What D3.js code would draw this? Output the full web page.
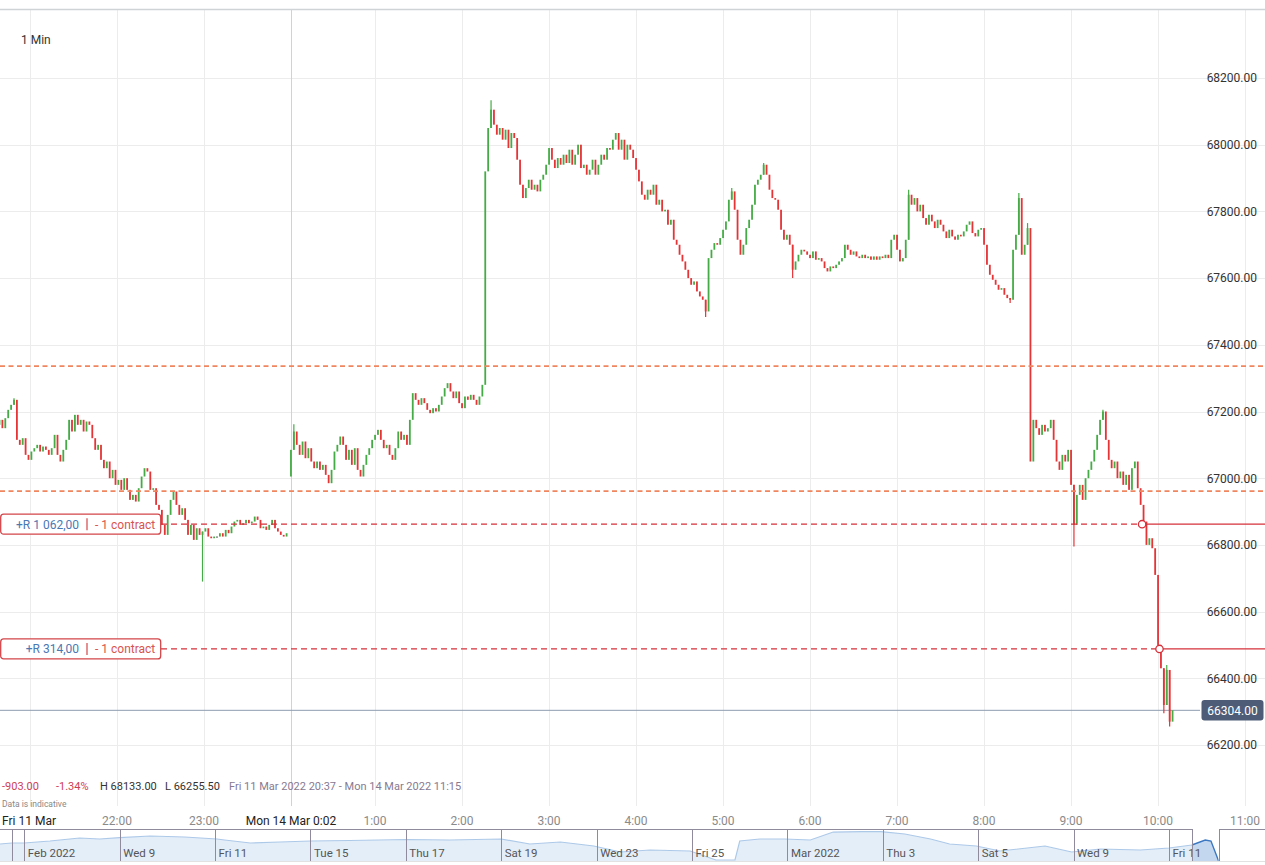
<!DOCTYPE html>
<html><head><meta charset="utf-8">
<script src="https://cdn.jsdelivr.net/npm/d3@7"></script>
<style>
body{margin:0;background:#fff;overflow:hidden}
svg{display:block;font-family:Roboto,"Liberation Sans",Arial,sans-serif}
</style>
</head><body>
<svg id="chart" width="1265" height="865"></svg>
<script>
// ---------------- DATA ----------------
const intervalLabel = "1 Min";
const candleMinutes = 2;
const viewStartStr = "2022-03-11T20:37";
const viewEndStr = "2022-03-14T11:15";
const gapStartStr = "2022-03-12T00:00";
const gapEndStr = "2022-03-14T00:02";

const fridayStartStr = "2022-03-11T20:37";
const fridayOpen = 67207;
const fridayCloses = [
67160,67175,67150,67180,67205,67220,67235,67115,67100,67120,
67070,67055,67080,67090,67100,67080,67095,67085,67070,67090,
67130,67070,67050,67085,67115,67175,67140,67190,67160,67175,
67140,67170,67160,67120,67085,67100,67055,67030,67050,67000,
67025,66980,66995,66965,67000,66965,66935,66950,66930,66970,
67005,67030,67020,66965,66970,66920,66905,66860,66830,66890,
66935,66960,66920,66890,66910,66875,66830,66860,66815,66850,
66830,66840,66850,66825,66820,66825,66825,66835,66825,66845,
66835,66855,66870,66875,66860,66865,66875,66865,66870,66885,
66875,66850,66855,66845,66860,66875,66850,66840,66830,66825,
66835];
const fridayWicks = [[6,67240,null],[71,null,66690]];

const mondayStartStr = "2022-03-14T00:02";
const mondayOpen = 67005;
const mondayCloses = [
67085,67140,67100,67070,67110,67060,67090,67050,67030,67050,
67025,67040,67010,66985,67025,67080,67100,67125,67100,67055,
67085,67040,67090,67025,67005,67040,67070,67090,67115,67130,
67145,67115,67090,67100,67070,67055,67090,67140,67115,67130,
67100,67175,67255,67235,67220,67240,67225,67205,67195,67210,
67200,67220,67245,67270,67285,67260,67240,67260,67225,67210,
67245,67235,67250,67235,67220,67245,67280,67920,68050,68105,
68060,68030,68050,68015,68045,67990,68035,68020,67955,67880,
67840,67870,67895,67865,67880,67860,67895,67910,67940,67990,
67955,67930,67960,67940,67970,67945,67985,67940,67970,68000,
67930,67940,67910,67925,67955,67910,67940,67970,67955,67990,
67985,68015,68035,67985,68015,67955,68000,67985,67960,67925,
67890,67850,67835,67865,67850,67880,67820,67835,67800,67805,
67760,67775,67715,67700,67670,67650,67625,67600,67580,67590,
67560,67545,67535,67500,67660,67685,67705,67700,67720,67745,
67770,67835,67860,67805,67715,67670,67700,67750,67775,67820,
67880,67895,67910,67940,67910,67865,67840,67835,67805,67745,
67715,67730,67700,67625,67650,67670,67685,67680,67670,67660,
67680,67655,67660,67650,67630,67620,67635,67630,67640,67650,
67660,67700,67685,67670,67680,67665,67660,67670,67660,67665,
67655,67665,67655,67665,67660,67670,67660,67715,67730,67685,
67650,67660,67715,67850,67820,67840,67800,67820,67780,67760,
67790,67770,67750,67775,67760,67740,67720,67745,67725,67715,
67730,67725,67740,67760,67770,67735,67725,67745,67750,67700,
67640,67610,67595,67580,67565,67570,67550,67540,67535,67685,
67730,67840,67670,67700,67750,67050,67175,67150,67130,67160,
67140,67150,67175,67115,67050,67025,67070,67050,67085,66980,
66860,66950,66980,66935,67000,67025,67050,67085,67130,67175,
67200,67115,67055,67030,67050,67000,67020,66980,67010,66965,
67030,67050,66970,66920,66870,66800,66820,66790,66710,66500,
66430,66320,66425,66270,66304];
const mondayWicks = [[1,67162,null],[69,68133,null],[143,null,67483],[152,67870,null],
  [163,67945,null],[173,null,67600],[213,67865,null],[248,null,67525],[251,67855,null],
  [254,67765,null],[270,null,66795],[280,67205,null],[301,null,66295],[302,66440,null],[303,null,66255.5]];

const priceTicks = [66200,66400,66600,66800,67000,67200,67400,67600,67800,68000,68200];
const timeTickTimes = ["2022-03-11T21:00","2022-03-11T22:00","2022-03-11T23:00","2022-03-14T00:02",
  "2022-03-14T01:00","2022-03-14T02:00","2022-03-14T03:00","2022-03-14T04:00","2022-03-14T05:00",
  "2022-03-14T06:00","2022-03-14T07:00","2022-03-14T08:00","2022-03-14T09:00","2022-03-14T10:00","2022-03-14T11:00"];
const timeTickLabels = ["Fri 11 Mar","22:00","23:00","Mon 14 Mar 0:02","1:00","2:00","3:00","4:00","5:00",
  "6:00","7:00","8:00","9:00","10:00","11:00"];

const orderPrices = [67336, 66961];
const positionPrices = [66862, 66488];
const positionTimes = ["2022-03-14T09:49","2022-03-14T10:01"];
const positionPnL = ["+R 1 062,00","+R 314,00"];
const positionSize = ["- 1 contract","- 1 contract"];

const navTickPos = [-0.125,0,1,2,3,4,5,6,7,8,9,10,11,12];
const navTickLabels = ["","Feb 2022","Wed 9","Fri 11","Tue 15","Thu 17","Sat 19","Wed 23","Fri 25","Mar 2022","Thu 3","Sat 5","Wed 9","Fri 11"];
const navPos = [-0.255,-0.13,0,0.27,0.58,0.79,1.0,1.32,1.68,2.02,2.1,2.37,2.68,3.0,3.41,4.01,4.46,5.0,5.3,5.62,5.97,6.25,6.56,6.98,7.25,7.45,7.5,7.71,7.97,8.24,8.48,8.77,8.98,9.23,9.5,9.7,9.98,10.23,10.7,10.98,11.28,11.7,12.0,12.24,12.38,12.44,12.52];
const navVal = [66450,66655,66655,67060,67670,67465,67730,68075,67870,67465,67265,66655,66855,67060,67160,67365,67265,67465,66450,66855,66045,64825,65235,65030,63200,63200,67060,67465,67465,67265,68885,68970,68970,68480,67465,66450,66045,65030,66045,64825,65435,65235,65640,66250,67265,67060,63000];
const navWindow = [12.24, 12.52];
const dataNote = "Data is indicative";

// ---------------- SETUP ----------------
const W = 1265, H = 865;
const svg = d3.select("#chart");
const parse = d3.timeParse("%Y-%m-%dT%H:%M");
const viewStart = parse(viewStartStr), viewEnd = parse(viewEndStr);
const gapStart = parse(gapStartStr), gapEnd = parse(gapEndStr);
const gapMin = (gapEnd - gapStart) / 60000;
function comp(d){ let m = (d - viewStart) / 60000; if (d >= gapEnd) m -= gapMin; return m; }

const x = d3.scaleLinear().domain([0, comp(viewEnd)]).range([-3.4, 1266.8]);
const y = d3.scaleLinear().domain([66200, 68200]).range([745, 78]);

function build(startStr, open0, closes, wicks){
  const t0 = parse(startStr);
  const wm = new Map(wicks.map(w => [w[0], w]));
  let prev = open0;
  return closes.map((c, i) => {
    const o = prev; prev = c;
    let h = Math.max(o, c), l = Math.min(o, c);
    const w = wm.get(i);
    if (w) { if (w[1] != null) h = Math.max(h, w[1]); if (w[2] != null) l = Math.min(l, w[2]); }
    return {t: d3.timeMinute.offset(t0, i * candleMinutes), o, c, h, l};
  });
}
const candles = build(fridayStartStr, fridayOpen, fridayCloses, fridayWicks)
  .concat(build(mondayStartStr, mondayOpen, mondayCloses, mondayWicks));

const loc = d3.formatLocale({decimal: ".", thousands: "", grouping: [3], currency: ["", ""], minus: "-"});
const fmt = loc.format(".2f");

// ---------------- GRID ----------------
const gGrid = svg.append("g");
gGrid.selectAll("line.h").data(priceTicks).join("line")
  .attr("x1", 0).attr("x2", W).attr("y1", d => Math.round(y(d)) + 0.5).attr("y2", d => Math.round(y(d)) + 0.5)
  .attr("stroke", "#ececec");
gGrid.selectAll("line.v").data(timeTickTimes).join("line")
  .attr("x1", d => Math.round(x(comp(parse(d)))) + 0.5).attr("x2", d => Math.round(x(comp(parse(d)))) + 0.5)
  .attr("y1", 10).attr("y2", 806)
  .attr("stroke", (d, i) => timeTickLabels[i].startsWith("Mon") ? "#d2d2d2" : "#ececec");
svg.append("line").attr("x1", 0).attr("x2", W).attr("y1", 9.5).attr("y2", 9.5)
  .attr("stroke", "#cfd3d6").attr("stroke-width", 1.5);

svg.append("text").attr("x", 21).attr("y", 43.5).attr("font-size", 12).attr("fill", "#333").text(intervalLabel);

// current price line
const last = candles[candles.length - 1].c;
svg.append("line").attr("x1", 0).attr("x2", 1200).attr("y1", y(last)).attr("y2", y(last))
  .attr("stroke", "#8e9bb0").attr("stroke-width", 1);

// ---------------- CANDLES ----------------
svg.append("clipPath").attr("id", "plotclip").append("rect").attr("x", 0).attr("y", 11).attr("width", W).attr("height", 760);
const gC = svg.append("g").attr("clip-path", "url(#plotclip)");
const col = d => d.c > d.o ? "#45ac45" : (d.c < d.o ? "#e53336" : "#444");
const bw = 1.8;
gC.selectAll("line.wick").data(candles.filter(d => d.h > Math.max(d.o, d.c) || d.l < Math.min(d.o, d.c))).join("line")
  .attr("x1", d => x(comp(d.t))).attr("x2", d => x(comp(d.t)))
  .attr("y1", d => y(d.h)).attr("y2", d => y(d.l))
  .attr("stroke", col).attr("stroke-width", 1.2);
gC.selectAll("rect.body").data(candles).join("rect")
  .attr("x", d => x(comp(d.t)) - bw / 2).attr("width", bw)
  .attr("y", d => y(Math.max(d.o, d.c)))
  .attr("height", d => Math.max(1, Math.abs(y(d.o) - y(d.c))))
  .attr("fill", col);

// ---------------- ORDER / POSITION LINES ----------------
svg.selectAll("line.order").data(orderPrices).join("line")
  .attr("x1", 0).attr("x2", W).attr("y1", d => y(d)).attr("y2", d => y(d))
  .attr("stroke", "#f08660").attr("stroke-width", 1.7).attr("stroke-dasharray", "5,3.5");

const boxW = 161;
positionPrices.forEach((p, i) => {
  const py = y(p);
  const px = x(comp(parse(positionTimes[i])));
  svg.append("line").attr("x1", boxW).attr("x2", px).attr("y1", py).attr("y2", py)
    .attr("stroke", "#d5303a").attr("stroke-width", 1.3).attr("stroke-dasharray", "6,4");
  svg.append("line").attr("x1", px).attr("x2", W).attr("y1", py).attr("y2", py)
    .attr("stroke", "#d5303a").attr("stroke-width", 1.3);
  svg.append("circle").attr("cx", px).attr("cy", py).attr("r", 3.7)
    .attr("fill", "#fff").attr("stroke", "#d5303a").attr("stroke-width", 1.3);
  const g = svg.append("g");
  g.append("rect").attr("x", 0.7).attr("y", py - 10).attr("width", boxW - 1).attr("height", 20).attr("rx", 3)
    .attr("fill", "#fff").attr("stroke", "#d3454a").attr("stroke-width", 1.3);
  g.append("text").attr("x", 79).attr("y", py).attr("dy", "0.36em").attr("text-anchor", "end")
    .attr("font-size", 12).attr("fill", "#4a78b3").text(positionPnL[i]);
  g.append("line").attr("x1", 87).attr("x2", 87).attr("y1", py - 6).attr("y2", py + 6)
    .attr("stroke", "#d3454a").attr("stroke-width", 1.2);
  g.append("text").attr("x", 95).attr("y", py).attr("dy", "0.36em")
    .attr("font-size", 12).attr("fill", "#d9534f").text(positionSize[i]);
});

// ---------------- Y AXIS LABELS ----------------
svg.selectAll("text.ylab").data(priceTicks).join("text")
  .attr("x", 1257).attr("y", d => y(d)).attr("dy", "0.36em").attr("text-anchor", "end")
  .attr("font-size", 12).attr("fill", "#333").text(d => fmt(d));
svg.append("rect").attr("x", 1201.5).attr("y", y(last) - 10.3).attr("width", 62).attr("height", 20.5).attr("rx", 3)
  .attr("fill", "#4e5c77");
svg.append("text").attr("x", 1232.5).attr("y", y(last)).attr("dy", "0.36em").attr("text-anchor", "middle")
  .attr("font-size", 12).attr("fill", "#fff").text(fmt(last));

// ---------------- STATS ----------------
const first = candles[0].o;
const chg = last - first;
const hi = d3.max(candles, d => d.h), lo = d3.min(candles, d => d.l);
const tf = d3.timeFormat("%a %d %b %Y %H:%M");
const stats = [
  {x: 2, t: fmt(chg), c: "#cf3d55"},
  {x: 56, t: fmt(chg / first * 100) + "%", c: "#cf3d55"},
  {x: 100, t: "H " + fmt(hi), c: "#333"},
  {x: 165, t: "L " + fmt(lo), c: "#333"},
  {x: 229, t: tf(viewStart) + " - " + tf(viewEnd), c: "#867a92"}
];
svg.selectAll("text.stat").data(stats).join("text")
  .attr("x", d => d.x).attr("y", 790).attr("font-size", 11).attr("fill", d => d.c).text(d => d.t);
svg.append("text").attr("x", 2).attr("y", 806.5).attr("font-size", 8.5).attr("fill", "#888").text(dataNote);

// ---------------- X AXIS LABELS ----------------
svg.selectAll("text.xlab").data(timeTickTimes).join("text")
  .attr("x", d => x(comp(parse(d)))).attr("y", 824.5).attr("text-anchor", "middle")
  .attr("font-size", 12)
  .attr("fill", (d, i) => /[A-Za-z]/.test(timeTickLabels[i]) ? "#222" : "#8a8a8a")
  .text((d, i) => timeTickLabels[i])
  .each(function(d, i){ if (i === 0) d3.select(this).attr("text-anchor", "start").attr("x", 2); });

// ---------------- NAVIGATOR ----------------
const nx = d3.scaleLinear().domain([0, 12]).range([24.3, 1169]);
const ny = d3.scaleLinear().domain([63000, 69500]).range([861, 829]);
const navData = navPos.map((p, i) => ({p, v: navVal[i]}));
const area = d3.area().x(d => nx(d.p)).y0(861).y1(d => ny(d.v));
const lineGen = d3.line().x(d => nx(d.p)).y(d => ny(d.v));
const wl = nx(navWindow[0]), wr = nx(navWindow[1]);
svg.append("clipPath").attr("id", "navOut").append("rect").attr("x", 0).attr("y", 820).attr("width", wl).attr("height", 45);
svg.append("clipPath").attr("id", "navIn").append("rect").attr("x", wl).attr("y", 820).attr("width", wr - wl).attr("height", 45);
const gOut = svg.append("g").attr("clip-path", "url(#navOut)");
gOut.append("path").datum(navData).attr("d", area).attr("fill", "#e4eef9");
gOut.append("path").datum(navData).attr("d", lineGen).attr("fill", "none").attr("stroke", "#adc9e8").attr("stroke-width", 1.2);
const gIn = svg.append("g").attr("clip-path", "url(#navIn)");
gIn.append("path").datum(navData).attr("d", area).attr("fill", "#c3d8ef");
gIn.append("path").datum(navData).attr("d", lineGen).attr("fill", "none").attr("stroke", "#3c78c2").attr("stroke-width", 1.4);
svg.append("line").attr("x1", 0).attr("x2", W).attr("y1", 861.5).attr("y2", 861.5).attr("stroke", "#e2e2e2");
svg.selectAll("line.navsep").data(navTickPos).join("line")
  .attr("x1", d => Math.round(nx(d)) + 0.5).attr("x2", d => Math.round(nx(d)) + 0.5)
  .attr("y1", 829).attr("y2", 861).attr("stroke", "#8f8a9c").attr("stroke-width", 1);
svg.selectAll("text.navlab").data(navTickPos).join("text")
  .attr("x", d => nx(d) + 3.5).attr("y", 857).attr("font-size", 11.5).attr("fill", "#555")
  .text((d, i) => navTickLabels[i]);
svg.append("line").attr("x1", 0).attr("x2", Math.round(wl) + 0.5).attr("y1", 829.5).attr("y2", 829.5).attr("stroke", "#8f8a9c");
svg.append("line").attr("x1", Math.round(wr) + 0.5).attr("x2", W).attr("y1", 829.5).attr("y2", 829.5).attr("stroke", "#8f8a9c");
[wl, wr].forEach(v => svg.append("line").attr("x1", Math.round(v) + 0.5).attr("x2", Math.round(v) + 0.5)
  .attr("y1", 829).attr("y2", 861).attr("stroke", "#8f8a9c"));
</script>
</body></html>
